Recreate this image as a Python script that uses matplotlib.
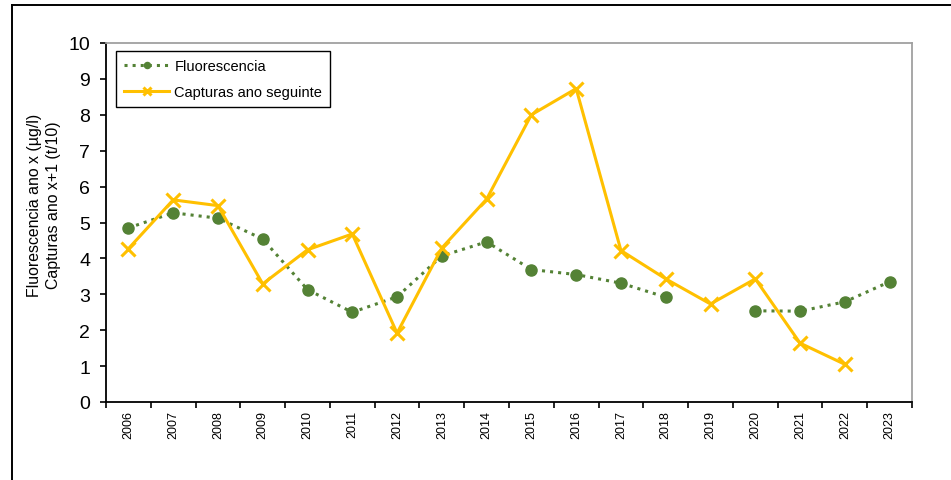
import numpy as np
import matplotlib
matplotlib.use("Agg")
import matplotlib.pyplot as plt
from matplotlib.lines import Line2D

plt.rcParams.update({
    "font.family": ["Liberation Sans", "DejaVu Sans"],
})

COL_FLUO = "#548235"
COL_CAPT = "#FFC000"

years = [str(y) for y in range(2006, 2024)]
fluorescencia = [4.85, 5.27, 5.12, 4.54, 3.13, 2.50, 2.93, 4.07, 4.46, 3.69,
                 3.55, 3.31, 2.92, np.nan, 2.54, 2.53, 2.79, 3.35]
capturas = [4.27, 5.63, 5.47, 3.29, 4.24, 4.68, 1.92, 4.29, 5.65, 8.00,
            8.73, 4.22, 3.43, 2.73, 3.43, 1.64, 1.05, np.nan]

fig = plt.figure(figsize=(9.51, 4.81), dpi=100)
ax = fig.add_axes([106 / 951, 1 - 403 / 481, (912 - 106) / 951, (403 - 44) / 481])

x = np.arange(len(years))
ax.plot(x, fluorescencia, ls=":", lw=2.2, color=COL_FLUO, marker="o", ms=8,
        mec=COL_FLUO, mfc=COL_FLUO, label="Fluorescencia", zorder=3)
ax.plot(x, capturas, ls="-", lw=2.2, color=COL_CAPT, marker="x", ms=9.5,
        mew=2.2, label="Capturas ano seguinte", zorder=4)

ax.set_xlim(-0.5, len(years) - 0.5)
ax.set_ylim(0, 10)
ax.set_yticks(range(0, 11))
ax.tick_params(axis="y", direction="out", length=4.3, width=1.2, pad=7, labelsize=14)
ax.set_xticks(x)
ax.set_xticklabels(years, rotation=90, fontsize=9)
ax.set_xticks(np.arange(-0.5, len(years), 1.0), minor=True)
ax.tick_params(axis="x", which="major", length=0, pad=6)
ax.tick_params(axis="x", which="minor", direction="out", length=4, width=1.2)

for s in ["left", "bottom"]:
    ax.spines[s].set_color("black")
    ax.spines[s].set_linewidth(1.3)
for s in ["top", "right"]:
    ax.spines[s].set_color("#A0A0A0")
    ax.spines[s].set_linewidth(1.3)

leg = ax.legend(loc="upper left", bbox_to_anchor=(0.0124, 0.978), borderaxespad=0,
                fontsize=10.5, frameon=True, fancybox=False, edgecolor="black",
                framealpha=1, handlelength=3.1, handletextpad=0.35,
                labelspacing=0.85, borderpad=0.55, markerscale=0.55)
leg.get_frame().set_linewidth(1.0)

fig.text(44 / 951, 1 - 205 / 481,
         "Fluorescencia ano x (µg/l)\nCapturas ano x+1 (t/10)",
         rotation=90, ha="center", va="center", multialignment="center",
         fontsize=11.4, linespacing=1.3)

# outer chart frame (top and left edges visible)
fig.add_artist(Line2D([12 / 951, 1.0], [1 - 6 / 481, 1 - 6 / 481],
                      transform=fig.transFigure, color="black", lw=1.4))
fig.add_artist(Line2D([12 / 951, 12 / 951], [0.0, 1 - 6 / 481],
                      transform=fig.transFigure, color="black", lw=1.4))

fig.savefig("out.png", dpi=100)
